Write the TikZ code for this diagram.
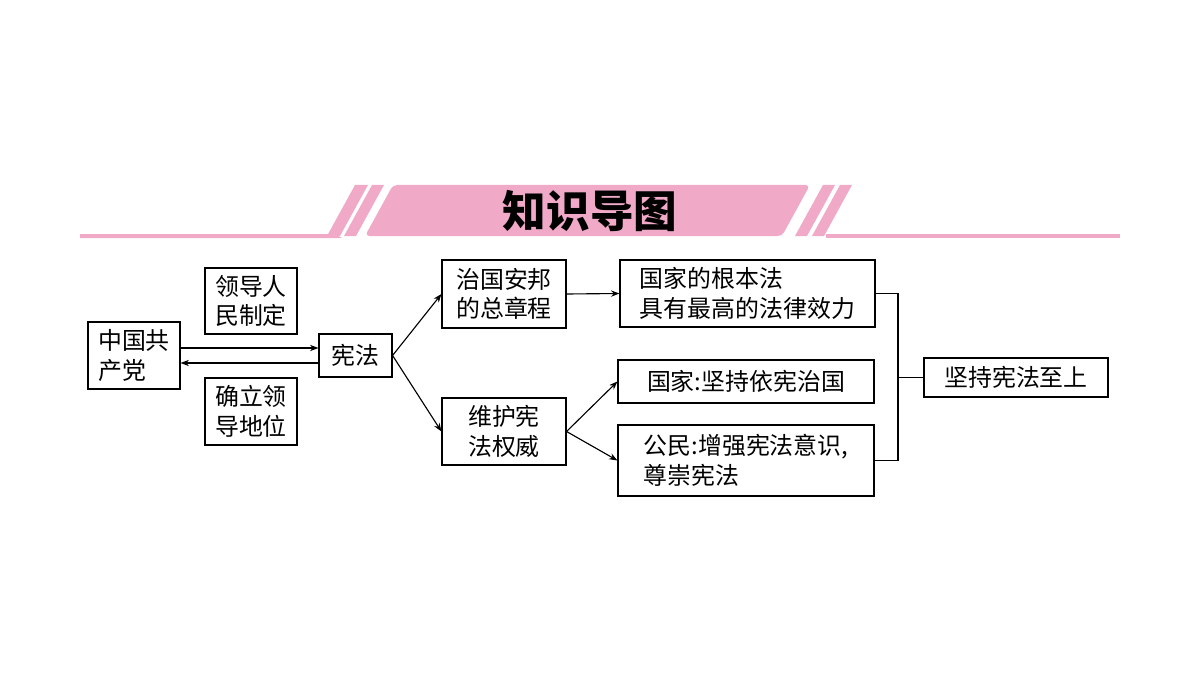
\documentclass[tikz,border=0pt]{standalone}
\usepackage{fontspec}
\newfontfamily\cjk{Noto Sans CJK SC}
\usetikzlibrary{positioning,arrows.meta}
\definecolor{headpink}{RGB}{240,170,200}
\tikzset{
  box/.style={draw,line width=1.6pt,inner sep=0pt,align=left,font=\cjk\fontsize{34}{42}\selectfont},
  arr/.style={line width=1.6pt,-{Stealth[length=12pt,width=9pt]}},
  link/.style={line width=1.6pt}
}
\begin{document}
\begin{tikzpicture}[x=0.05cm,y=-0.05cm]
  \useasboundingbox (0,0) rectangle (1200,675);
  % header
  \fill[headpink] (80,234) -- (335,234) -- (342,238) -- (80,238) -- cycle;
  \fill[headpink] (80,234) rectangle (338,238);
  \fill[headpink] (355,185) -- (368,185) -- (340,236) -- (327,236) -- cycle;
  \fill[headpink] (372,185) -- (384,185) -- (356,236) -- (344,236) -- cycle;
  \fill[headpink,rounded corners=6pt] (393,185) -- (810,185) -- (782,236) -- (365,236) -- cycle;
  \fill[headpink] (823,185) -- (835,185) -- (807,236) -- (795,236) -- cycle;
  \fill[headpink] (840,185) -- (852,185) -- (824,236) -- (812,236) -- cycle;
  \fill[headpink] (826,234) rectangle (1120,238);
  \node (title) at (590,211) {\cjk\bfseries\fontsize{62}{70}\selectfont 知识导图};
  % boxes
  \node[box,minimum width=92*0.05cm,minimum height=67*0.05cm] (party) at (134,355.5) {中国共\\产党};
  \node[box,minimum width=92*0.05cm,minimum height=66*0.05cm] (make) at (251,301) {领导人\\民制定};
  \node[box,minimum width=92*0.05cm,minimum height=67*0.05cm] (lead) at (251,411.5) {确立领\\导地位};
  \node[box,minimum width=73*0.05cm,minimum height=43*0.05cm] (xf) at (355.5,355.5) {宪法};
  \node[box,minimum width=124*0.05cm,minimum height=68*0.05cm] (zg) at (504,294) {治国安邦\\的总章程};
  \node[box,minimum width=124*0.05cm,minimum height=67*0.05cm] (wh) at (504,431.5) {维护宪\\法权威};
  \node[box,minimum width=255*0.05cm,minimum height=67*0.05cm] (gb) at (747.5,293.5) {国家的根本法\\具有最高的法律效力};
  \node[box,minimum width=256*0.05cm,minimum height=43*0.05cm] (gj) at (746,381.5) {国家:坚持依宪治国};
  \node[box,minimum width=256*0.05cm,minimum height=71*0.05cm] (gm) at (746,460.5) {公民:增强宪法意识,\\尊崇宪法};
  \node[box,minimum width=184*0.05cm,minimum height=39*0.05cm] (zs) at (1016,377.5) {坚持宪法至上};
  % connectors
  \draw[arr] (party.east |- 0,348) -- (xf.west |- 0,348);
  \draw[arr] (xf.west |- 0,363) -- (party.east |- 0,363);
  \draw[arr] (xf.east) -- (zg.west);
  \draw[arr] (xf.east) -- (wh.west);
  \draw[arr] (zg.east) -- (gb.west);
  \draw[arr] (wh.east) -- (gj.west);
  \draw[arr] (wh.east) -- (gm.west);
  \coordinate (bx) at (898,377.5);
  \draw[link] (gb.east) -| (bx) |- (gm.east);
  \draw[link] (bx) -- (zs.west);
\end{tikzpicture}
\end{document}
